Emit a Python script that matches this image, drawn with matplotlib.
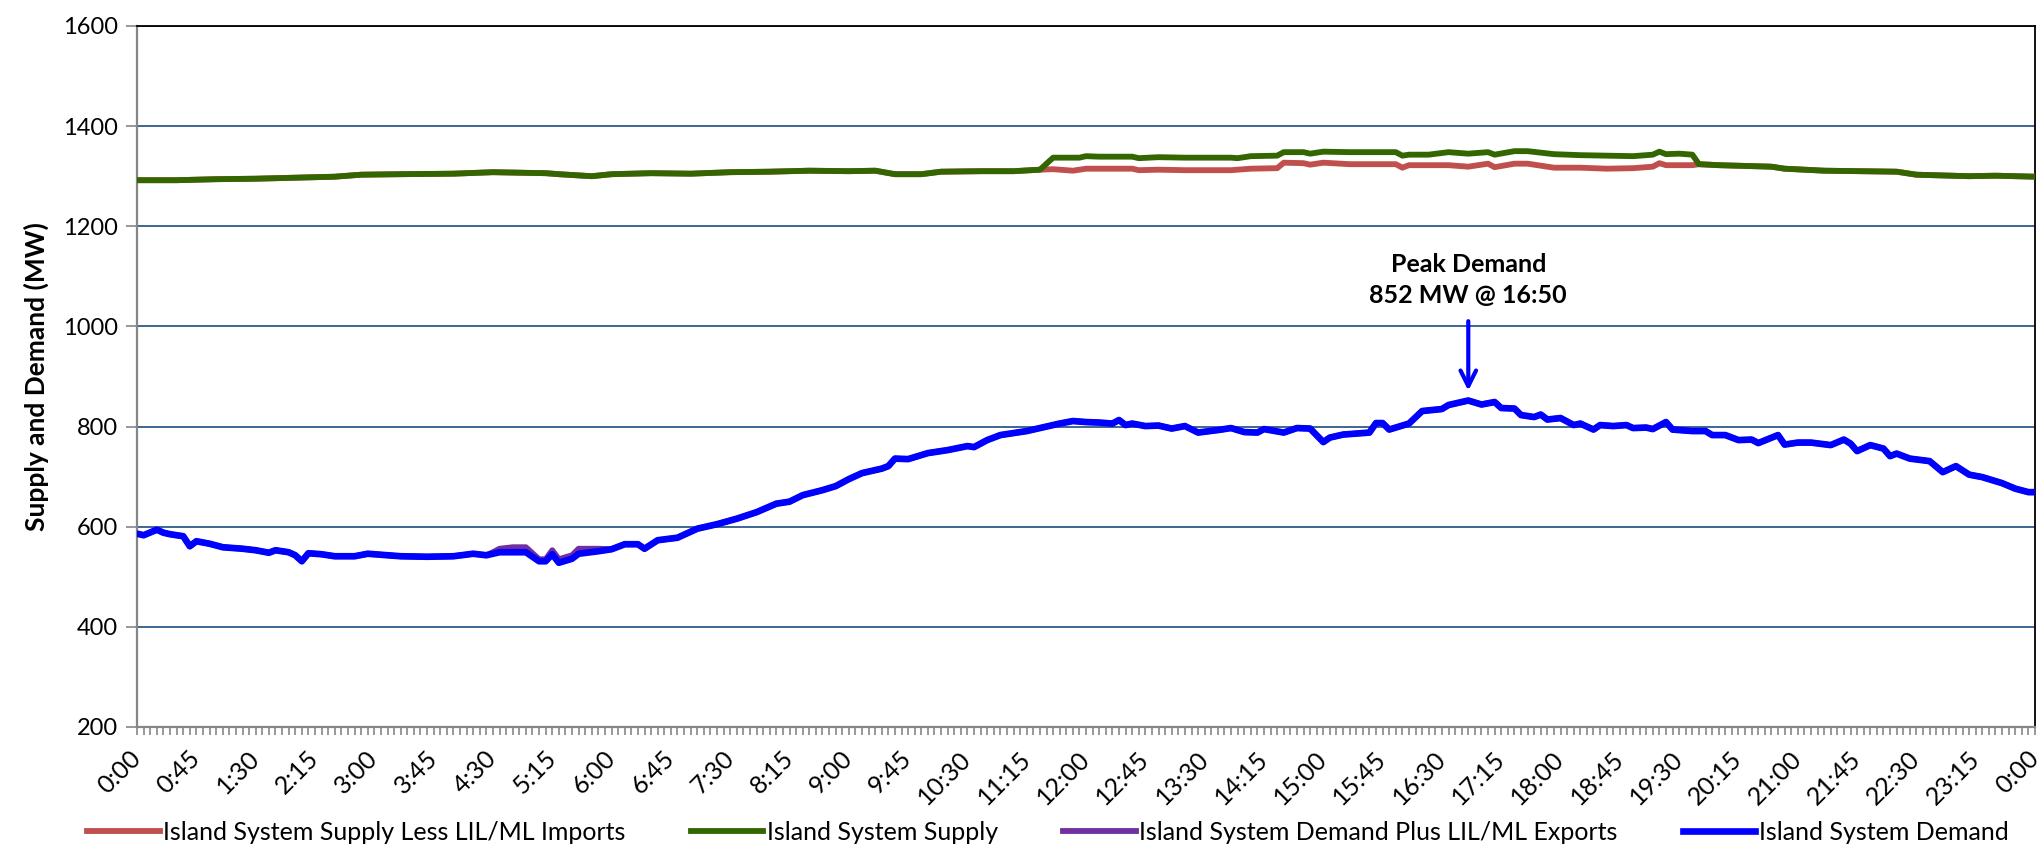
import matplotlib
matplotlib.use('Agg')
import matplotlib.pyplot as plt
import matplotlib.transforms as mtransforms
import numpy as np
import pandas as pd

plt.rcParams['font.family'] = ['Lato', 'DejaVu Sans']

# ------------------------------------------------------------------
# данные (минуты от 0:00, МВт)
demand_t = [0, 5, 15, 20, 25, 35, 40, 45, 55, 65, 80, 90, 100, 105, 115, 120, 125, 130,
            140, 150, 165, 175, 185, 200, 220, 240, 255, 265, 275, 295, 305, 310, 315,
            320, 330, 335, 350, 360, 370, 380, 385, 395, 410, 425, 440, 455, 470, 485,
            495, 505, 520, 530, 540, 550, 565, 570, 575, 585, 590, 600, 610, 615, 630,
            635, 645, 655, 675, 685, 700, 710, 720, 730, 740, 745, 750, 755, 765, 775,
            785, 795, 805, 820, 830, 840, 850, 855, 870, 880, 890, 900, 905, 915, 935,
            940, 945, 950, 965, 975, 990, 995, 1010, 1020, 1030, 1035, 1045, 1050, 1060,
            1065, 1070, 1080, 1090, 1095, 1105, 1110, 1120, 1130, 1135, 1145, 1150, 1160,
            1165, 1180, 1190, 1195, 1205, 1215, 1225, 1230, 1245, 1250, 1260, 1270, 1285,
            1295, 1300, 1305, 1315, 1325, 1330, 1335, 1345, 1360, 1370, 1380, 1390, 1400,
            1415, 1425, 1435, 1440]
demand_mw = [586, 583, 594, 588, 585, 581, 561, 571, 566, 559, 556, 553, 548, 553, 549, 543, 531, 547,
             545, 541, 541, 546, 544, 541, 540, 541, 546, 543, 549, 549, 531, 531, 545,
             528, 536, 546, 551, 555, 565, 565, 556, 573, 578, 596, 605, 616, 629, 646,
             650, 663, 673, 681, 695, 707, 716, 721, 736, 735, 739, 747, 751, 753, 761,
             759, 773, 783, 791, 797, 806, 811, 809, 808, 806, 813, 803, 806, 801, 802,
             796, 801, 788, 793, 797, 789, 788, 795, 788, 797, 796, 769, 778, 784, 788,
             807, 807, 794, 806, 831, 835, 843, 852, 844, 849, 837, 836, 823, 819,
             824, 814, 817, 803, 806, 794, 803, 801, 803, 797, 798, 795, 809,
             794, 791, 791, 783, 783, 773, 774, 767, 783, 764, 768, 768, 763,
             774, 766, 751, 763, 756, 741, 746, 736, 731, 709, 721, 704, 699,
             687, 676, 669, 669]

# спрос + экспорт: отличается от спроса только около 4:30-5:50
exports_win_t = [270, 275, 285, 295, 305, 310, 315, 320, 330, 335, 350]
exports_win_mw = [549, 556, 559, 559, 535, 535, 553, 535, 543, 556, 556]

supply_t = [0, 30, 60, 90, 120, 150, 170, 200, 240, 270, 290, 310, 320, 345, 360, 390, 420,
            450, 480, 510, 540, 560, 575, 595, 610, 640, 665, 685, 695, 715, 720, 730, 755,
            760, 775, 795, 830, 835, 845, 865, 870, 885, 890, 900, 920, 955, 960, 965, 980,
            995, 1010, 1025, 1030, 1045, 1055, 1075, 1095, 1115, 1135, 1150, 1155, 1160,
            1170, 1180, 1185, 1200, 1240, 1250, 1280, 1335, 1350, 1390, 1410, 1440]
supply_mw = [1292, 1292, 1294, 1295, 1297, 1299, 1303, 1304, 1305, 1308, 1307, 1306, 1304, 1300, 1304, 1306, 1305,
             1308, 1309, 1311, 1310, 1311, 1304, 1304, 1309, 1310, 1310, 1313, 1337, 1337, 1340, 1339, 1339,
             1336, 1338, 1337, 1337, 1336, 1340, 1341, 1348, 1348, 1345, 1349, 1348, 1348, 1341, 1343, 1343,
             1348, 1345, 1348, 1343, 1350, 1350, 1344, 1342, 1341, 1340, 1343, 1349, 1344,
             1345, 1343, 1324, 1322, 1319, 1315, 1311, 1309, 1303, 1300, 1301, 1299]

# поставка без импорта: отличается от поставки только 11:35-19:40
imports_win_t = [695, 710, 720, 730, 755, 760, 775, 795, 830, 845, 865, 870, 885, 890, 900,
                 920, 955, 960, 965, 995, 1010, 1025, 1030, 1045, 1055, 1075, 1095, 1115,
                 1135, 1150, 1155, 1160, 1180]
imports_win_mw = [1314, 1311, 1315, 1315, 1315, 1312, 1313, 1312, 1312, 1315, 1316, 1327, 1326, 1323, 1327,
                  1324, 1324, 1317, 1322, 1322, 1319, 1325, 1318, 1325, 1325, 1317, 1317, 1315,
                  1316, 1319, 1326, 1322, 1322]

peak_t = 1010
peak_mw = 852

# ------------------------------------------------------------------
demand = pd.Series(demand_mw, index=demand_t)
supply = pd.Series(supply_mw, index=supply_t)

w = pd.Series(exports_win_mw, index=exports_win_t)
demand_exp = pd.concat([demand[demand.index < w.index[0]], w, demand[demand.index > w.index[-1]]])
w = pd.Series(imports_win_mw, index=imports_win_t)
supply_less = pd.concat([supply[supply.index < w.index[0]], w, supply[supply.index > w.index[-1]]])

fig = plt.figure(figsize=(20.43, 8.49), dpi=100)
ax = fig.add_axes([0.0671, 0.1437, 0.9290, 0.8257])

lw = 4.2
ax.plot(supply_less.index, supply_less.values, color='#C0504D', lw=lw, zorder=3,
        label='Island System Supply Less LIL/ML Imports', solid_joinstyle='round')
ax.plot(supply.index, supply.values, color='#336600', lw=lw, zorder=4,
        label='Island System Supply', solid_joinstyle='round')
ax.plot(demand_exp.index, demand_exp.values, color='#7030A0', lw=lw, zorder=5,
        label='Island System Demand Plus LIL/ML Exports', solid_joinstyle='round')
ax.plot(demand.index, demand.values, color='#0000FF', lw=lw + 0.6, zorder=6,
        label='Island System Demand', solid_joinstyle='round')

ax.set_xlim(0, 1440)
ax.set_ylim(200, 1600)
ax.set_yticks(np.arange(200, 1601, 200))
ax.yaxis.grid(True, color='#2E5A8A', lw=1.3)
ax.set_axisbelow(True)

major = np.arange(0, 1441, 45)
ax.set_xticks(major)
ax.set_xticklabels(['%d:%02d' % ((m // 60) % 24, m % 60) for m in major],
                   rotation=45, ha='right', va='center', rotation_mode='anchor')
# сдвинем подписи чуть влево, чтобы последняя не обрезалась
shift = mtransforms.ScaledTranslation(-0.07, 0, fig.dpi_scale_trans)
for lab in ax.get_xticklabels():
    lab.set_transform(lab.get_transform() + shift)
ax.set_xticks(np.arange(0, 1441, 5), minor=True)
ax.tick_params(axis='x', which='both', direction='out', length=6, color='#868686', width=1.2)
ax.tick_params(axis='x', which='major', labelsize=18, pad=14)
ax.tick_params(axis='y', direction='out', length=8, color='#868686', width=1.2, labelsize=17, pad=6)

for s in ['left', 'bottom']:
    ax.spines[s].set_color('#868686')
    ax.spines[s].set_linewidth(1.6)
for s in ['top', 'right']:
    ax.spines[s].set_color('black')
    ax.spines[s].set_linewidth(1.3)

ax.set_ylabel('Supply and Demand (MW)', fontsize=19, fontweight='bold', labelpad=10)

# подпись пика
ax.annotate('', xy=(peak_t, peak_mw + 14), xytext=(peak_t, 1016),
            arrowprops=dict(arrowstyle='->', color='#0000FF', lw=3, mutation_scale=28))
ax.text(peak_t, 1093, 'Peak Demand\n%d MW @ 16:50' % peak_mw, ha='center', va='center',
        fontsize=18, fontweight='bold', linespacing=1.45)

fig.legend(loc='center', bbox_to_anchor=(0.513, 0.02), ncol=4, frameon=False,
           fontsize=18, handlelength=2.9, handletextpad=0.15, columnspacing=2.6)

fig.savefig('out.png', dpi=100)
